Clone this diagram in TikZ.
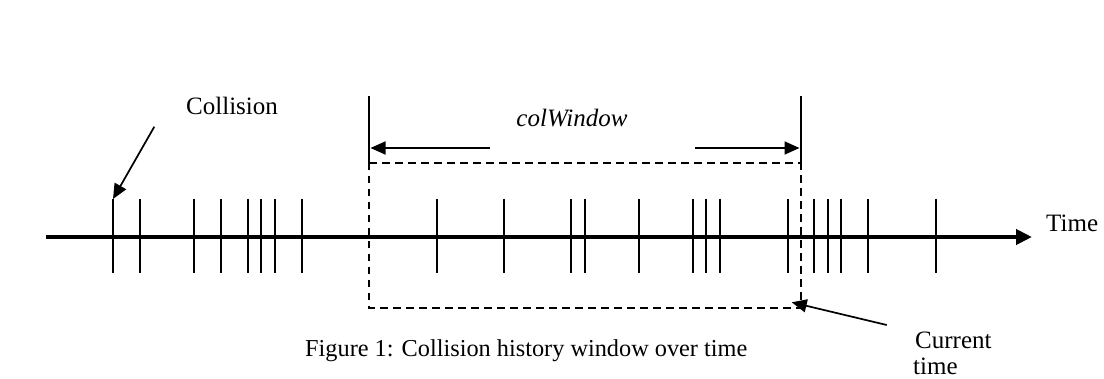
\documentclass[tikz,border=0pt]{standalone}
\usepackage{fontspec}
\setmainfont{Liberation Serif}
\usetikzlibrary{arrows.meta}
\begin{document}
\begin{tikzpicture}[x=1pt,y=-1pt,
  tick/.style={line width=1.8pt},
  axis/.style={line width=4.8pt,-{Triangle[length=16pt,width=15pt]}},
  wall/.style={line width=1.8pt},
  dashbox/.style={line width=1.9pt,dash pattern=on 7.5pt off 5.5pt},
  pointer/.style={line width=1.7pt,-{Triangle[length=15pt,width=13pt]}},
  label/.style={inner sep=0pt,anchor=base west,font=\fontsize{25}{29}\selectfont},
  caption/.style={inner sep=0pt,anchor=base west,font=\fontsize{24.3}{28}\selectfont}]
\useasboundingbox (0,0) rectangle (1104,379);
% axis
\coordinate (axL) at (46,237);
\coordinate (axR) at (1032,237);
\draw[axis] (axL) -- (axR);
% ticks
\foreach \t in {113,140,194,221,248,261,275,302,437,504,571,585,639,693,706,720,788,814,828,841,868,936}
  \draw[tick] (\t,199) -- (\t,273);
\coordinate (firsttick) at (113,199);
% window walls
\coordinate (wLt) at (369,96);
\coordinate (wLb) at (369,163);
\coordinate (wRt) at (801,96);
\coordinate (wRb) at (801,163);
\draw[wall] (wLt) -- (wLb);
\draw[wall] (wRt) -- (wRb);
% dashed window
\coordinate (bL) at (369,308);
\coordinate (bR) at (801,308);
\draw[dashbox] (wLb) -- (wRb);
\draw[dashbox] (wLb) -- (bL) -- (bR) -- (wRb);
% colWindow
\node[inner sep=0pt,anchor=base,font=\fontsize{25}{29}\selectfont\itshape] (cw) at (572,127) {colWindow};
\coordinate (aL1) at (490,148);
\coordinate (aL2) at (370.5,148);
\coordinate (aR1) at (695,148);
\coordinate (aR2) at (799.5,148);
\draw[pointer] (aL1) -- (aL2);
\draw[pointer] (aR1) -- (aR2);
% labels
\node[label] (col) at (186,115) {Collision};
\node[label] (time) at (1046,231.5) {Time};
\node[label] (cur) at (915,349) {Current};
\node[label] (cur2) at (913,375) {time};
\node[caption] (cap) at (305,356.7) {Figure 1: Collision history window over time};
% pointers
\coordinate (colS) at (154.3,126.7);
\draw[pointer] (colS) -- (firsttick);
\coordinate (curS) at (886.7,325);
\coordinate (curE) at (791.7,302.3);
\draw[pointer] (curS) -- (curE);
\end{tikzpicture}
\end{document}
